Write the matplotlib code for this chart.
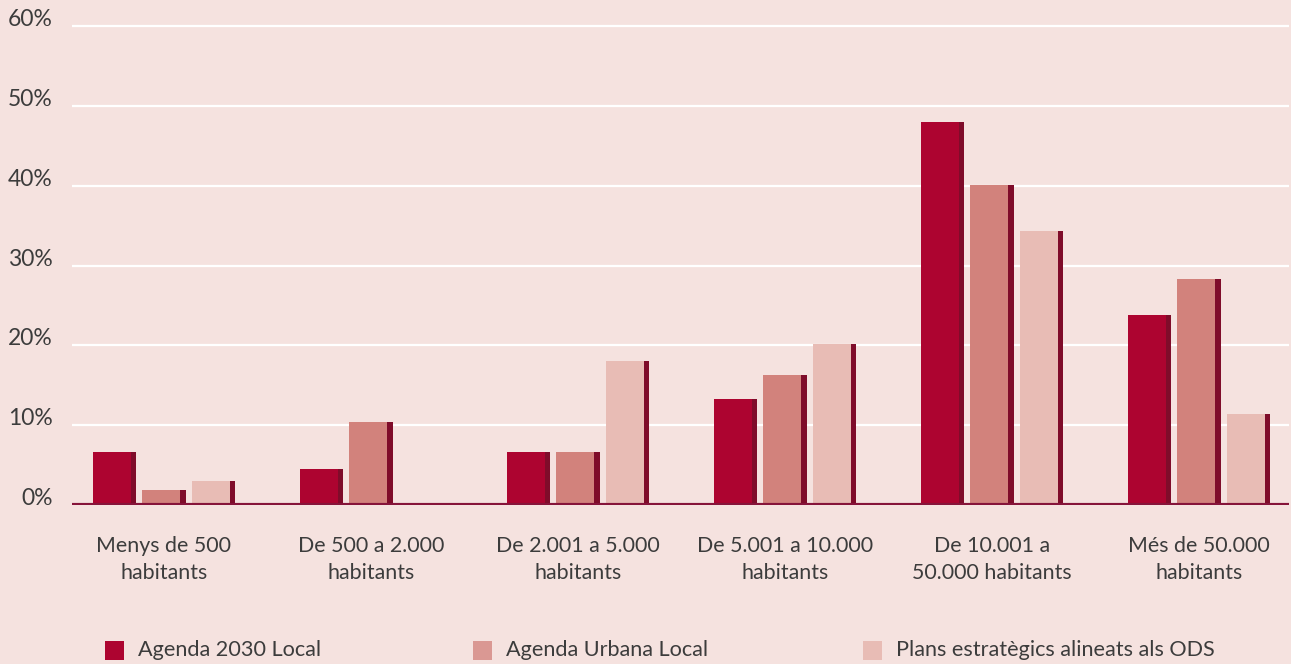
import matplotlib
matplotlib.use("Agg")
import matplotlib.pyplot as plt
from matplotlib.patches import Rectangle
import numpy as np

categories = ["Menys de 500\nhabitants", "De 500 a 2.000\nhabitants", "De 2.001 a 5.000\nhabitants",
              "De 5.001 a 10.000\nhabitants", "De 10.001 a\n50.000 habitants", "Més de 50.000\nhabitants"]
series_names = ["Agenda 2030 Local", "Agenda Urbana Local", "Plans estratègics alineats als ODS"]
agenda2030 = [6.6, 4.5, 6.6, 13.3, 48.0, 23.8]
agenda_urbana = [1.9, 10.4, 6.6, 16.3, 40.1, 28.3]
plans_ods = [3.0, 0.0, 18.0, 20.2, 34.3, 11.4]
yticks = [0, 10, 20, 30, 40, 50, 60]
ytick_labels = ["0%", "10%", "20%", "30%", "40%", "50%", "60%"]

series_values = [agenda2030, agenda_urbana, plans_ods]
face_colors = ["#ad0430", "#d2827c", "#e8bcb5"]
legend_colors = ["#ad0430", "#da9893", "#e8bcb5"]
shadow_color = "#7f0c2a"
bg = "#f5e2df"
text_color = "#3c3c3c"

plt.rcParams['font.family'] = ['Lato', 'DejaVu Sans']

W, H = 1291, 664
fig = plt.figure(figsize=(W / 100, H / 100), dpi=100, facecolor=bg)
y0_px, y60_px = 505, 26
top_px = 20
ax = fig.add_axes([72 / W, (H - y0_px) / H, (1289 - 72) / W, (y0_px - top_px) / H])
ax.set_facecolor(bg)
ymax = 60 * (y0_px - top_px) / (y0_px - y60_px)
ax.set_ylim(0, ymax)

group_px = 207.0
xmin = (72 - 164) / group_px
xmax = (1289 - 164) / group_px
ax.set_xlim(xmin, xmax)

pitch = 49.5 / group_px
face_w = 38 / group_px
shadow_w = 5.5 / group_px
total_w = face_w + shadow_w

x = np.arange(len(categories))
for j, vals in enumerate(series_values):
    offs = (j - 1) * pitch
    lefts = x + offs - total_w / 2
    ax.bar(lefts + face_w, vals, width=shadow_w, align='edge', color=shadow_color, zorder=3, linewidth=0)
    ax.bar(lefts, vals, width=face_w, align='edge', color=face_colors[j], zorder=3, linewidth=0)

for yv in yticks[1:]:
    ax.axhline(yv, color="white", lw=1.6, zorder=1)
ax.axhline(0, color="#86143a", lw=3.0, zorder=4)

for s in ax.spines.values():
    s.set_visible(False)
ax.set_yticks(yticks)
ax.set_yticklabels(ytick_labels)
ax.tick_params(axis='y', length=0, pad=14, labelsize=16.5, labelcolor=text_color)
for lbl in ax.get_yticklabels():
    lbl.set_va('baseline')
ax.set_xticks(x)
ax.set_xticklabels(categories)
ax.tick_params(axis='x', length=0, pad=22, labelsize=15.4, labelcolor=text_color)
for lbl in ax.get_xticklabels():
    lbl.set_linespacing(1.45)

legend_x_px = [105, 473, 863]
for j, name in enumerate(series_names):
    fig.patches.append(Rectangle((legend_x_px[j] / W, (H - 660) / H), 19 / W, 19 / H,
                                 transform=fig.transFigure, color=legend_colors[j], lw=0))
    fig.text((legend_x_px[j] + 33) / W, (H - 650) / H, name, fontsize=15.6, color=text_color,
             va='center', ha='left')

fig.savefig("out.png", dpi=100, facecolor=bg)
